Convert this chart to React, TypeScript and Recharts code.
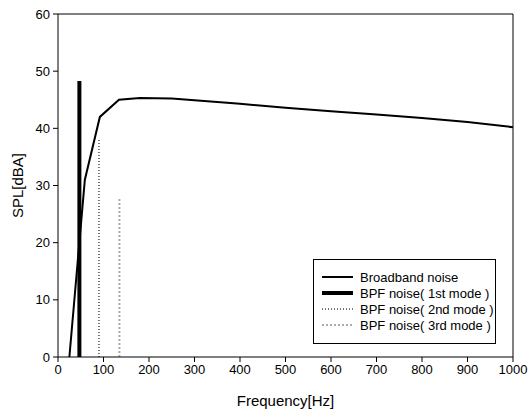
import * as React from "react";
import {
  LineChart,
  Line,
  XAxis,
  YAxis,
  ReferenceLine,
} from "recharts";

// broadband noise curve
const bbFreq = [25, 59, 92, 134, 180, 250, 300, 400, 500, 600, 700, 800, 900, 1000];
const bbSpl = [0, 31, 42, 45, 45.3, 45.2, 44.9, 44.3, 43.6, 43.0, 42.4, 41.8, 41.1, 40.2];

// BPF tones (vertical lines): frequency and peak level
const bpfFreq = [47, 90, 135];
const bpfSpl = [48.3, 38.2, 28];

const xTicks = [0, 100, 200, 300, 400, 500, 600, 700, 800, 900, 1000];
const yTicks = [0, 10, 20, 30, 40, 50, 60];

const seriesNames = [
  "Broadband noise",
  "BPF noise( 1st mode )",
  "BPF noise( 2nd mode )",
  "BPF noise( 3rd mode )",
];

const broadband = bbFreq.map((f, i) => ({ f, v: bbSpl[i] }));
const bpf = bpfFreq.map((f, i) => [
  { f, v: 0 },
  { f, v: bpfSpl[i] },
]);

const styles = [
  { stroke: "#000", width: 2, dash: undefined },
  { stroke: "#000", width: 4, dash: undefined },
  { stroke: "#777", width: 2, dash: "1 2" },
  { stroke: "#aaa", width: 2, dash: "2 2" },
];

const font = "'Liberation Sans', Arial, sans-serif";

const LegendBox = () => (
  <div
    style={{
      position: "absolute",
      left: 313,
      top: 259,
      width: 183,
      height: 85,
      border: "1px solid #000",
      boxSizing: "border-box",
      background: "#fff",
      fontFamily: font,
      fontSize: 13,
      paddingTop: 9,
    }}
  >
    {seriesNames.map((name, i) => (
      <div
        key={name}
        style={{ display: "flex", alignItems: "center", height: 16 }}
      >
        <svg width={46} height={10} style={{ flex: "none" }}>
          <line
            x1={8}
            x2={39}
            y1={5}
            y2={5}
            stroke={styles[i].stroke}
            strokeWidth={styles[i].width}
            strokeDasharray={styles[i].dash}
          />
        </svg>
        <span style={{ color: "#000" }}>{name}</span>
      </div>
    ))}
  </div>
);

export default function App() {
  return (
    <div
      style={{
        position: "absolute",
        left: 0,
        top: 0,
        width: 528,
        height: 415,
        background: "#fff",
      }}
    >
      <LineChart
        width={528}
        height={415}
        margin={{ top: 14, right: 15, left: 0, bottom: 0 }}
        style={{ fontFamily: font }}
      >
        <XAxis
          dataKey="f"
          type="number"
          domain={[0, 1000]}
          ticks={xTicks}
          allowDuplicatedCategory={false}
          height={58}
          stroke="#000"
          tickSize={5}
          tickMargin={3}
          tick={{ fill: "#000", fontSize: 13 }}
          label={{
            value: "Frequency[Hz]",
            position: "insideBottom",
            offset: 9,
            fill: "#000",
            fontSize: 15,
          }}
        />
        <YAxis
          type="number"
          domain={[0, 60]}
          ticks={yTicks}
          width={58}
          stroke="#000"
          tickSize={5}
          tickMargin={3}
          tick={{ fill: "#000", fontSize: 13 }}
          label={{
            value: "SPL[dBA]",
            angle: -90,
            position: "insideLeft",
            offset: 18,
            fill: "#000",
            fontSize: 15,
            style: { textAnchor: "middle" },
          }}
        />
        <ReferenceLine y={60} stroke="#000" strokeWidth={1} />
        <ReferenceLine x={1000} stroke="#000" strokeWidth={1} />
        <Line
          data={broadband}
          dataKey="v"
          name={seriesNames[0]}
          type="linear"
          stroke="#000"
          strokeWidth={2}
          dot={false}
          isAnimationActive={false}
        />
        {bpf.map((d, i) => (
          <Line
            key={i}
            data={d}
            dataKey="v"
            name={seriesNames[i + 1]}
            type="linear"
            stroke={styles[i + 1].stroke}
            strokeWidth={styles[i + 1].width}
            strokeDasharray={styles[i + 1].dash}
            dot={false}
            isAnimationActive={false}
          />
        ))}
      </LineChart>
      <LegendBox />
    </div>
  );
}
